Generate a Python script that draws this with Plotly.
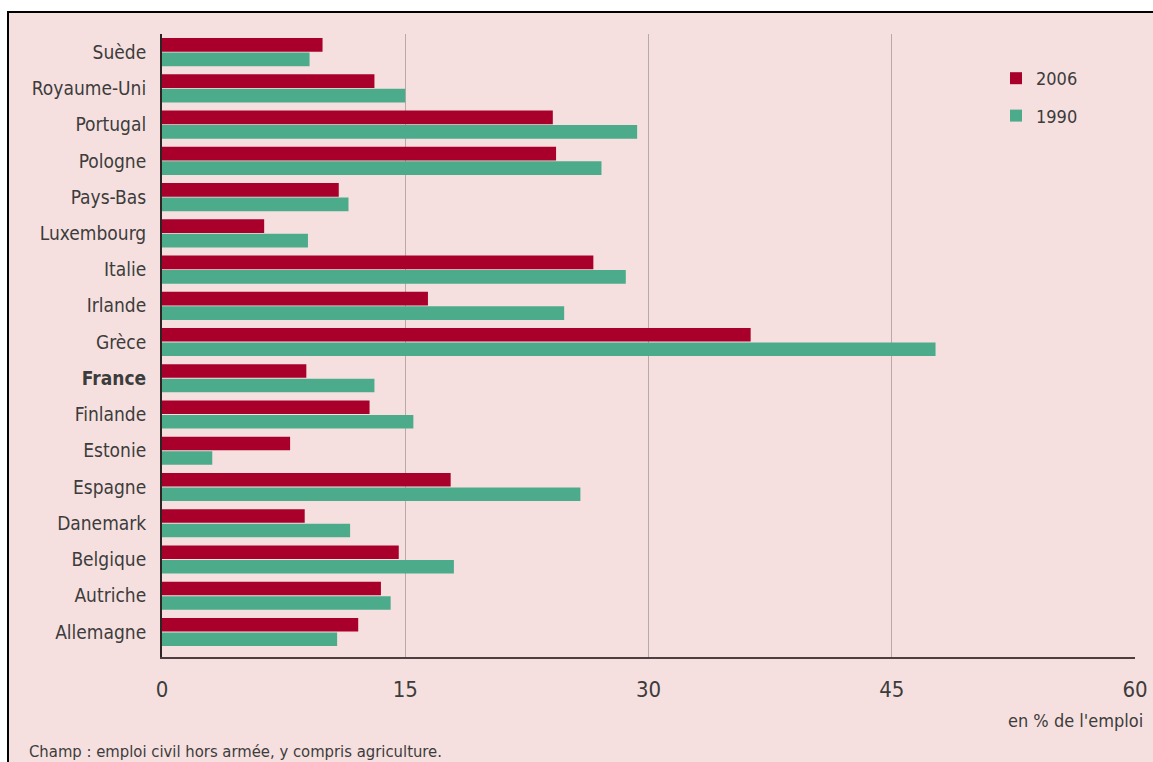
import plotly.graph_objects as go

# Data (top-to-bottom order as displayed)
countries = ["Suède", "Royaume-Uni", "Portugal", "Pologne", "Pays-Bas", "Luxembourg",
             "Italie", "Irlande", "Grèce", "France", "Finlande", "Estonie", "Espagne",
             "Danemark", "Belgique", "Autriche", "Allemagne"]
tick_text = [("<b>France</b>" if c == "France" else c) for c in countries]
values_2006 = [9.9, 13.1, 24.1, 24.3, 10.9, 6.3, 26.6, 16.4, 36.3, 8.9, 12.8, 7.9, 17.8, 8.8, 14.6, 13.5, 12.1]
values_1990 = [9.1, 15.0, 29.3, 27.1, 11.5, 9.0, 28.6, 24.8, 47.7, 13.1, 15.5, 3.1, 25.8, 11.6, 18.0, 14.1, 10.8]
series_names = ["2006", "1990"]
x_ticks = [0, 15, 30, 45, 60]

RED = "#a8002a"
GREEN = "#4cab8b"
BG = "#f6e0df"
FONT = "Liberation Sans Narrow, DejaVu Sans Condensed, Arial Narrow, sans-serif"
TXT = "#3c3c3c"

W, H = 1153, 762
L, R, T, B = 162, 1153 - 1135, 34, 762 - 657
pw, ph = W - L - R, H - T - B

def px_x(x):
    return (x - L) / pw

def px_y(y):
    return (H - B - y) / ph

fig = go.Figure()
fig.add_trace(go.Bar(y=countries, x=values_2006, orientation="h", name=series_names[0],
                     marker=dict(color=RED, line=dict(width=0)), legendgroup="a"))
fig.add_trace(go.Bar(y=countries, x=values_1990, orientation="h", name=series_names[1],
                     marker=dict(color=GREEN, line=dict(width=0)), legendgroup="b"))

fig.update_layout(
    width=W, height=H,
    margin=dict(l=L, r=R, t=T, b=B, autoexpand=False),
    paper_bgcolor="white",
    plot_bgcolor=BG,
    barmode="group",
    bargap=0.2,
    bargroupgap=0.06,
    font=dict(family=FONT, color=TXT, size=17),
    legend=dict(x=px_x(996), y=px_y(60), xanchor="left", yanchor="top",
                bgcolor="rgba(0,0,0,0)", font=dict(size=18, color=TXT),
                traceorder="grouped", tracegroupgap=11, itemwidth=30),
    xaxis=dict(range=[0, 60], tickvals=x_ticks, ticktext=[str(v) for v in x_ticks],
               showgrid=True, gridcolor="#b9a9a9", gridwidth=1,
               showline=True, linecolor="#4e3e3e", linewidth=2,
               zeroline=False, ticks="", ticklabelstandoff=12,
               tickfont=dict(size=22, color=TXT)),
    yaxis=dict(categoryorder="array", categoryarray=countries,
               tickvals=countries, ticktext=tick_text,
               range=[16.69, -0.5],
               showline=True, linecolor="#2e2424", linewidth=2,
               showgrid=False, zeroline=False, ticks="", ticklabelstandoff=10,
               tickfont=dict(size=19, color=TXT)),
)

# Outer frame
fig.add_shape(type="rect", xref="paper", yref="paper",
              x0=px_x(8), x1=px_x(1175), y0=px_y(800), y1=px_y(12),
              fillcolor=BG, line=dict(color="black", width=2), layer="below")

fig.add_annotation(xref="paper", yref="paper", x=px_x(1145), y=px_y(720),
                   text="en % de l'emploi", showarrow=False, xanchor="right", yanchor="middle",
                   font=dict(size=18, color=TXT, family=FONT))
fig.add_annotation(xref="paper", yref="paper", x=px_x(27), y=px_y(751),
                   text="Champ : emploi civil hors armée, y compris agriculture.", showarrow=False,
                   xanchor="left", yanchor="middle",
                   font=dict(size=16.5, color=TXT, family=FONT))

fig.write_html(
    "out.html",
    config={"displayModeBar": False},
    post_script="document.body.style.margin='0';document.body.style.overflow='hidden';"
                "document.documentElement.style.overflow='hidden';",
)
